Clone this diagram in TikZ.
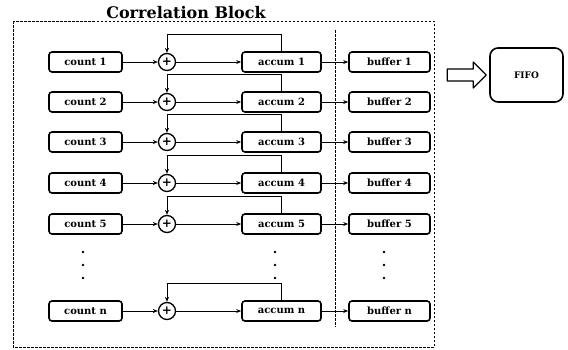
\documentclass[tikz,border=0pt]{standalone}
\usepackage{fontspec}
\setmainfont{DejaVu Serif}
\usetikzlibrary{arrows.meta,positioning,calc}
\tikzset{
  unitbox/.style={draw, rounded corners=3pt, line width=1.6pt, minimum height=20pt, inner sep=1pt, font=\fontsize{10}{12}\selectfont\bfseries},
  sumnode/.style={draw, circle, line width=1.3pt, minimum size=17pt, inner sep=0pt, font=\fontsize{12}{12}\selectfont\bfseries},
  flowln/.style={-{Stealth[length=5pt,width=4pt]}, line width=1pt},
  fenceln/.style={dash pattern=on 2.5pt off 1.5pt, line width=0.8pt},
}
\newcommand{\dotcol}[1]{%
  \foreach \dy in {0,13,26} \fill #1 ++(0,\dy) circle (1.3pt);
}

\begin{document}
\begin{tikzpicture}[x=1pt,y=-1pt]
    \useasboundingbox (0,0) rectangle (568,349);
    \draw[fenceln] (13,21) rectangle (434,347);
    \node[anchor=base, font=\fontsize{16}{18}\selectfont\bfseries] (title) at (186,18) {Correlation Block};
    \draw[fenceln] (335,30) -- (335,327);
    \foreach \k/\yy in {1/62,2/102,3/142,4/183,5/224,n/311}{
      \node[unitbox, minimum width=73pt] (cnt\k) at (85.5,\yy) {count \k};
      \node[sumnode] (sum\k) at (167,\yy) {+};
      \node[unitbox, minimum width=79pt] (acc\k) at (281.5,\yy) {accum \k};
      \node[unitbox, minimum width=81pt] (buf\k) at (389.5,\yy) {buffer \k};
      \draw[flowln] (cnt\k) -- (sum\k);
      \draw[flowln] (sum\k) -- (acc\k);
      \draw[flowln] (acc\k) -- (buf\k);
      \draw[flowln] (acc\k.north) -- ++(0,-17) -| (sum\k.north);
    }
    \dotcol{(83,252)}
    \dotcol{(275,252)}
    \dotcol{(384,252)}
    \node[unitbox, rounded corners=8pt, minimum width=73pt, minimum height=54pt, font=\fontsize{9}{11}\selectfont\bfseries] (fifo) at (526.5,75) {FIFO};
    \coordinate (tip) at ($(fifo.west)+(-3,0)$);
    \draw[line width=1.2pt, line join=round] (tip) -- ++(-13,-13) -- ++(0,7) -- ++(-26,0) -- ++(0,12) -- ++(26,0) -- ++(0,7) -- cycle;
  \end{tikzpicture}
\end{document}
